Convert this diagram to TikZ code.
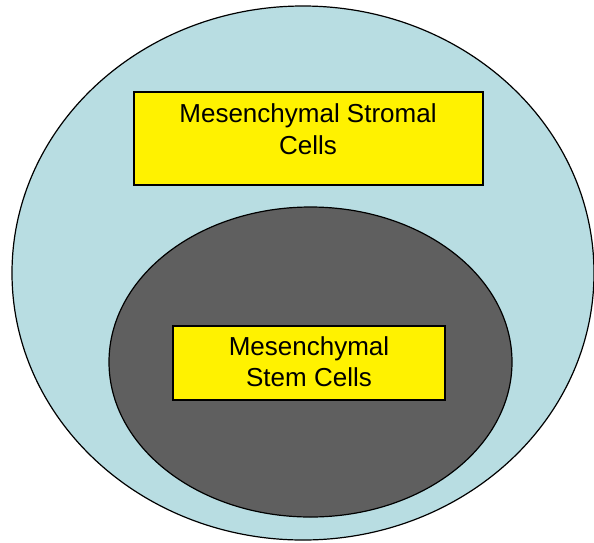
\documentclass[tikz,border=0pt]{standalone}
\usepackage{fontspec}
\setmainfont{Liberation Sans}
\usetikzlibrary{shapes.geometric}
\definecolor{stromalblue}{RGB}{184,221,226}
\definecolor{stemgray}{RGB}{95,95,95}
\begin{document}
\begin{tikzpicture}[
        x=1pt, y=-1pt,
        every node/.style={align=center},
        cellring/.style={ellipse, draw, line width=1.2pt, inner sep=0pt},
        cellbox/.style={rectangle, draw, line width=1.1pt, fill=yellow, inner sep=0pt},
        celltext/.style={font=\fontsize{26}{31.5}\selectfont, inner sep=0pt}
    ]
        \useasboundingbox (0,0) rectangle (594,542);

        \node[cellring, fill=stromalblue, minimum width=582pt, minimum height=534pt] (outer) at (303, 273) {};
        \node[cellring, fill=stemgray, minimum width=403pt, minimum height=310pt] (inner) at (310.5, 362) {};

        \node[cellbox, minimum width=349pt, minimum height=93pt] (stromalbox) at (308.5, 138.5) {};
        \node[celltext] (stromal) at (308, 129) {Mesenchymal Stromal\\Cells};

        \node[cellbox, minimum width=272pt, minimum height=74pt] (stembox) at (309, 363) {};
        \node[celltext] (stem) at (309, 361.5) {Mesenchymal\\Stem Cells};
    \end{tikzpicture}
\end{document}
